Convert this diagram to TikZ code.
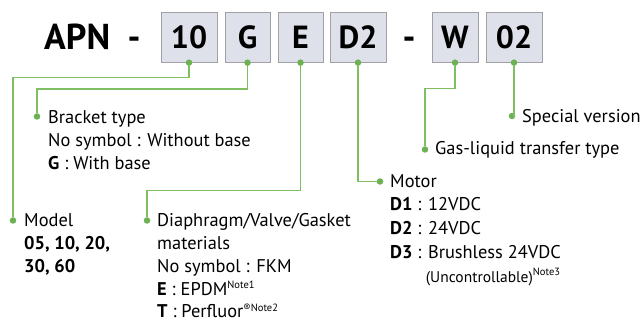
\documentclass[tikz,border=0pt]{standalone}
\usepackage{fontspec}
\setmainfont{PT Sans}
\definecolor{lineg}{RGB}{128,190,98}
\definecolor{dotg}{RGB}{108,178,82}
\definecolor{boxfill}{RGB}{222,225,234}
\definecolor{boxdraw}{RGB}{160,160,165}
\newcommand\bodyfs{\fontsize{18.4}{20}\selectfont}
\newcommand\notefs{\fontsize{10.5}{12}\selectfont}
\newcommand\notesup[1]{\raisebox{6.5pt}{\notefs #1}}
\begin{document}
\begin{tikzpicture}[x=1pt,y=-1pt,
  codebox/.style={draw=boxdraw,fill=boxfill,line width=0.9pt,inner sep=0pt,font=\fontsize{32}{32}\bfseries\selectfont},
  hdr/.style={inner sep=0pt,font=\fontsize{36}{36}\bfseries\selectfont,anchor=base west},
  txt/.style={inner sep=0pt,anchor=base west,font=\bodyfs},
  link/.style={draw=lineg,line width=1.3pt},
  pin/.style={circle,fill=dotg,inner sep=0pt,minimum size=6.5pt}]
\useasboundingbox (0,0) rectangle (643,323);
% header
\node[hdr] (apn) at (44,49.3) {APN};
\node[hdr,anchor=base] (dash1) at (134,49.3) {-};
\node[hdr,anchor=base] (dash2) at (409,49.3) {-};
\node[codebox,minimum width=56pt,minimum height=50pt] (b10) at (189,37.2) {10};
\node[codebox,minimum width=45pt,minimum height=50pt] (bG) at (247.5,37.2) {G};
\node[codebox,minimum width=45pt,minimum height=50pt] (bE) at (300.5,37.2) {E};
\node[codebox,minimum width=56pt,minimum height=50pt] (bD) at (358,37.2) {D2};
\node[codebox,minimum width=46pt,minimum height=50pt] (bW) at (455,37.2) {W};
\node[codebox,minimum width=56pt,minimum height=50pt] (b02) at (514,37.2) {02};
% pins on boxes
\node[pin] (p10) at (b10.south) {};
\node[pin] (pG) at (bG.south) {};
\node[pin] (pE) at (bE.south) {};
\node[pin] (pD) at (bD.south) {};
\node[pin] (pW) at (bW.south) {};
\node[pin] (p02) at (b02.south) {};
% target pins
\node[pin] (qModel) at (13,220.5) {};
\node[pin] (qBr) at (37,116.5) {};
\node[pin] (qDia) at (147,220.5) {};
\node[pin] (qMot) at (380,181.5) {};
\node[pin] (qGas) at (425,149.5) {};
\node[pin] (qSp) at (512,116) {};
% connectors
\coordinate (c10) at (189,77.5);
\coordinate (cG) at (247.5,89);
\coordinate (cE) at (300.5,190.5);
\coordinate (cW) at (455,88.5);
\draw[link] (p10) -- (c10) -| (qModel);
\draw[link] (pG) -- (cG) -| (qBr);
\draw[link] (pE) -- (cE) -| (qDia);
\draw[link] (pD) |- (qMot);
\draw[link] (pW) -- (cW) -| (qGas);
\draw[link] (p02) -- (p02 |- qSp) -- (qSp);
% texts
\node[txt] (tBr1) at (48,123.5) {Bracket type};
\node[txt] (tBr2) at (48,146.5) {No symbol : Without base};
\node[txt] (tBr3) at (48,169.5) {\textbf{G} : With base};
\node[txt] (tMo1) at (24,227) {Model};
\node[txt] (tMo2) at (24,250) {\textbf{05, 10, 20,}};
\node[txt] (tMo3) at (24,273) {\textbf{30, 60}};
\node[txt] (tDi1) at (157,227) {Diaphragm/Valve/Gasket};
\node[txt] (tDi2) at (157,250) {materials};
\node[txt] (tDi3) at (157,272.5) {No symbol : FKM};
\node[txt] (tDi4) at (157,295) {\textbf{E} : EPDM\notesup{Note1}};
\node[txt] (tDi5) at (157,318) {\textbf{T} : Perfluor\notesup{®Note2}};
\node[txt] (tMt1) at (390,187.3) {Motor};
\node[txt] (tMt2) at (390,211) {\textbf{D1} : 12VDC};
\node[txt] (tMt3) at (390,235) {\textbf{D2} : 24VDC};
\node[txt] (tMt4) at (390,259) {\textbf{D3} : Brushless 24VDC};
\node[txt,font=\fontsize{15.5}{17}\selectfont] (tMt5) at (425.7,282.5) {(Uncontrollable)\notesup{Note3}};
\node[txt] (tGas) at (435,155) {Gas-liquid transfer type};
\node[txt] (tSp) at (522,122.3) {Special version};
\end{tikzpicture}
\end{document}
